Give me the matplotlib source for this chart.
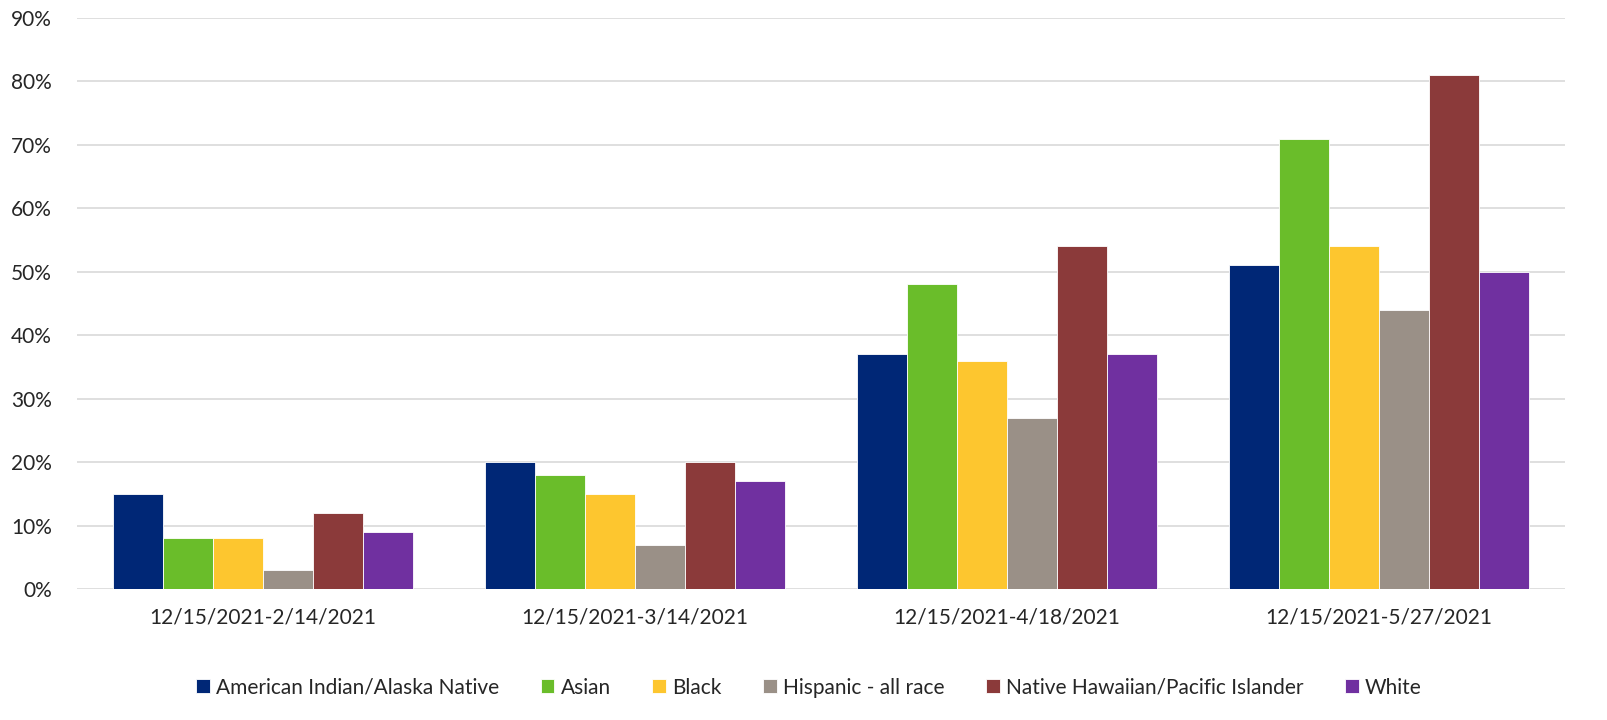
import matplotlib
matplotlib.use('Agg')
import matplotlib.pyplot as plt
from matplotlib.ticker import PercentFormatter
import numpy as np

plt.rcParams['font.family'] = ['Lato', 'DejaVu Sans']

periods = ['12/15/2021-2/14/2021', '12/15/2021-3/14/2021',
           '12/15/2021-4/18/2021', '12/15/2021-5/27/2021']
groups = ['American Indian/Alaska Native', 'Asian', 'Black',
          'Hispanic - all race', 'Native Hawaiian/Pacific Islander', 'White']
ai_an = [15, 20, 37, 51]
asian = [8, 18, 48, 71]
black = [8, 15, 36, 54]
hispanic = [3, 7, 27, 44]
nhpi = [12, 20, 54, 81]
white = [9, 17, 37, 50]
colors = ['#002776', '#6ABD2A', '#FDC62F', '#9A9087', '#8B3A3A', '#7030A0']

series = [ai_an, asian, black, hispanic, nhpi, white]

fig = plt.figure(figsize=(16.08, 7.2), dpi=100)
ax = fig.add_axes([0.0479, 0.182, 0.9254, 0.793])

x = np.arange(len(periods))
w = 0.1345
for i, (vals, name, c) in enumerate(zip(series, groups, colors)):
    ax.bar(x + (i - 2.5) * w, vals, w, color=c, label=name,
           edgecolor='white', linewidth=0.6, zorder=3)

ax.set_xlim(-0.5, len(periods) - 0.5)
ax.set_ylim(0, 90)
ax.set_yticks(range(0, 91, 10))
ax.yaxis.set_major_formatter(PercentFormatter(decimals=0))
ax.set_xticks(x)
ax.set_xticklabels(periods)
ax.grid(axis='y', color='#D9D9D9', linewidth=1.2, zorder=0)
for s in ax.spines.values():
    s.set_visible(False)
ax.tick_params(axis='both', length=0, labelsize=15, colors='#262626')
ax.tick_params(axis='x', pad=13)
ax.tick_params(axis='y', pad=18)

fig.legend(loc='center', bbox_to_anchor=(0.503, 0.045), ncol=6, frameon=False,
           fontsize=15, handlelength=0.65, handleheight=0.65, handletextpad=0.3,
           columnspacing=2.0, labelcolor='#262626')

fig.savefig('out.png', dpi=100)
